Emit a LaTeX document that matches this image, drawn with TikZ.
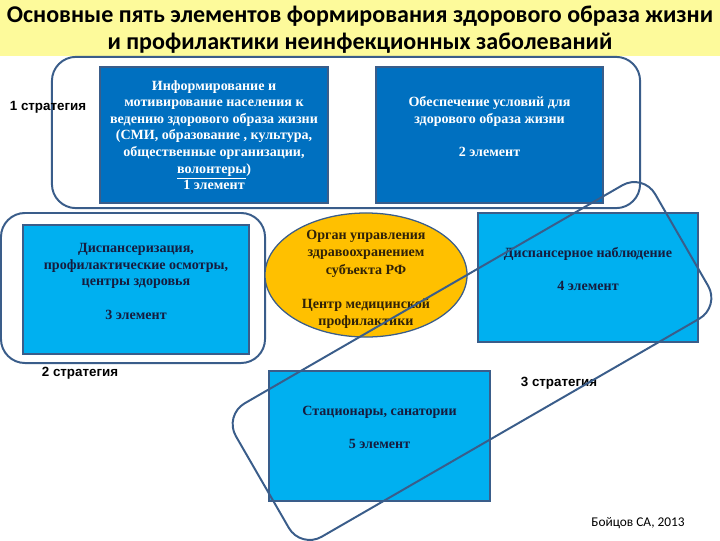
\documentclass[tikz,border=0pt]{standalone}
\usepackage{fontspec}
\setmainfont{Liberation Serif}
\newfontfamily\labelfont{Liberation Sans}
\newfontfamily\titlefont{Carlito}
\usetikzlibrary{shapes.geometric}

\definecolor{titlebg}{RGB}{253,250,155}
\definecolor{darkblue}{RGB}{0,112,192}
\definecolor{lightblue}{RGB}{0,176,240}
\definecolor{gold}{RGB}{255,192,0}
\definecolor{edge}{RGB}{58,93,138}
\definecolor{inktext}{RGB}{22,28,62}
\definecolor{browntext}{RGB}{48,34,8}

\begin{document}
\begin{tikzpicture}[x=0.025cm, y=-0.025cm,
    elem/.style={draw=edge, line width=0.9pt, align=center, inner sep=0pt,
                 font=\bfseries\fontsize{10}{11.8}\selectfont},
    darkelem/.style={elem, fill=darkblue, text=white},
    lightelem/.style={elem, fill=lightblue, text=inktext},
    strat/.style={draw=edge, line width=1.4pt, rounded corners=0.6cm, inner sep=0pt},
    stratlabel/.style={font=\labelfont\bfseries\fontsize{9.5}{11}\selectfont}
]
\useasboundingbox (0,0) rectangle (720,540);

% title band
\node[fill=titlebg, minimum width=18cm, minimum height=1.4cm, inner sep=0pt,
      font=\titlefont\bfseries\fontsize{17.1}{19.2}\selectfont] (title) at (360,28)
  {\smash{\raisebox{-6pt}{\begin{tabular}{@{}c@{}}Основные пять элементов формирования здорового образа жизни\\
   и профилактики неинфекционных заболеваний\end{tabular}}}};

% strategy outlines 1 and 2
\node[strat, minimum width=14.7cm, minimum height=3.78cm] (strat1) at (346,132.5) {};
\node[strat, minimum width=6.6cm, minimum height=3.75cm] (strat2) at (133,288) {};

\node[stratlabel] (lab1) at (48,107) {1 стратегия};
\node[stratlabel] (lab2) at (80,373) {2 стратегия};
\node[stratlabel] (lab3) at (559,383) {3 стратегия};

% elements
\node[darkelem, minimum width=5.7cm, minimum height=3.4cm] (el1) at (214,135)
  {Информирование и\\ мотивирование населения к\\ ведению здорового образа жизни\\
   (СМИ, образование , культура,\\ общественные организации,\\ \underline{волонтеры})\\ 1 элемент};
\node[darkelem, minimum width=5.675cm, minimum height=3.4cm] (el2) at (489.5,135)
  {Обеспечение условий для\\ здорового образа жизни\\ \mbox{}\\ 2 элемент\\ \mbox{}};
\node[lightelem, minimum width=5.65cm, minimum height=3.225cm] (el3) at (136,289.5)
  {Диспансеризация,\\ профилактические осмотры,\\ центры здоровья\\ \mbox{}\\ 3 элемент\\ \mbox{}};
\node[elem, ellipse, fill=gold, text=browntext, minimum width=5.05cm, minimum height=3.1cm,
      font=\bfseries\fontsize{10}{12.2}\selectfont] (organ) at (366,275)
  {\smash{\raisebox{-5.5pt}{\begin{tabular}{@{}c@{}}Орган управления\\ здравоохранением\\ субъекта РФ\\ \\
   Центр медицинской\\ профилактики\end{tabular}}}};
\node[lightelem, minimum width=5.5cm, minimum height=3.225cm] (el4) at (588,277.5)
  {Диспансерное наблюдение\\ \mbox{}\\ 4 элемент\\ \mbox{}};
\node[lightelem, minimum width=5.525cm, minimum height=3.25cm] (el5) at (379.5,436)
  {Стационары, санатории\\ \mbox{}\\ 5 элемент\\ \mbox{}};

% strategy 3 (tilted)
\node[strat, rotate=30, minimum width=12.1cm, minimum height=3.85cm] (strat3) at (472,361) {};

\node[font=\titlefont\fontsize{9.5}{11}\selectfont] (src) at (638,523) {Бойцов СА, 2013};
\end{tikzpicture}
\end{document}
